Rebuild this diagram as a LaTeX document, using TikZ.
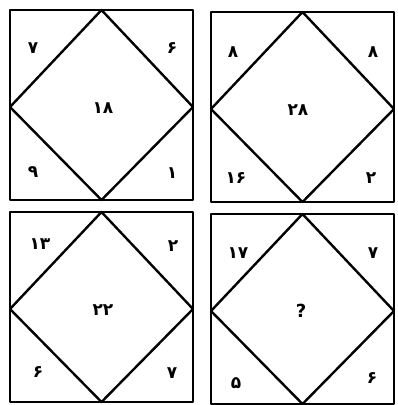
\documentclass[tikz,border=0pt]{standalone}
\usepackage{fontspec}
\newfontfamily\pfont{DejaVu Sans}
\begin{document}
\begin{tikzpicture}[x=1pt,y=-1pt,
  frame/.style={draw=black,line width=2.6pt,line join=round},
  dia/.style={draw=black,line width=2.4pt,line join=round},
  num/.style={font=\pfont\bfseries\fontsize{17}{17}\selectfont,inner sep=0pt}]
\useasboundingbox[fill=white] (0,0) rectangle (398,405);
\tikzset{cell/.pic={
  \coordinate (-a) at (0,0);
  \coordinate (-b) at (183,190);
  \draw[frame] (-a) rectangle (-b);
  \coordinate (-t) at (91.5,0);
  \coordinate (-r) at (183,97);
  \coordinate (-bt) at (91.5,190);
  \coordinate (-l) at (0,97);
  \draw[dia] (-t) -- (-r) -- (-bt) -- (-l) -- cycle;
}}
% top-left
\pic (A) at (10,10) {cell};
\node[num] (A1) at (33,48) {۷};
\node[num] (A2) at (172,48) {۶};
\node[num] (A3) at (33,172) {۹};
\node[num] (A4) at (172,173) {۱};
\node[num] (A5) at (103,108) {۱۸};
% top-right
\pic (B) at (211,12) {cell};
\node[num] (B1) at (233,52) {۸};
\node[num] (B2) at (373,52) {۸};
\node[num] (B3) at (236,178) {۱۶};
\node[num] (B4) at (371,178) {۲};
\node[num] (B5) at (298,110) {۲۸};
% bottom-left
\pic (C) at (10,212) {cell};
\node[num] (C1) at (40,244) {۱۳};
\node[num] (C2) at (173,246) {۲};
\node[num] (C3) at (38,372) {۶};
\node[num] (C4) at (172,373) {۷};
\node[num] (C5) at (103,310) {۲۲};
% bottom-right
\pic (D) at (211,214) {cell};
\node[num] (D1) at (238,253) {۱۷};
\node[num] (D2) at (373,253) {۷};
\node[num] (D3) at (236,383) {۵};
\node[num] (D4) at (372,378) {۶};
\node[num,font=\pfont\bfseries\fontsize{18}{18}\selectfont] (D5) at (301,311) {?};
\end{tikzpicture}
\end{document}
